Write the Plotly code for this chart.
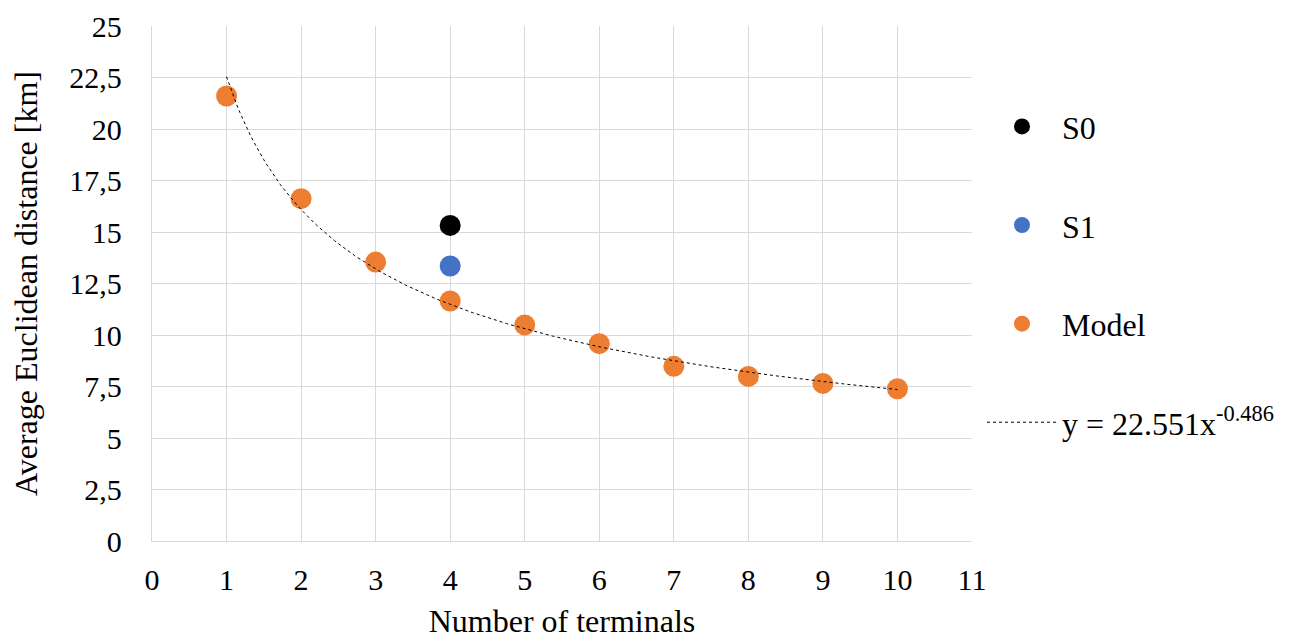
import numpy as np
import plotly.graph_objects as go

# Data
model_x = [1, 2, 3, 4, 5, 6, 7, 8, 9, 10]
model_y = [21.6, 16.62, 13.54, 11.65, 10.49, 9.58, 8.48, 7.99, 7.65, 7.39]
s0_x = [4]
s0_y = [15.32]
s1_x = [4]
s1_y = [13.35]

x_tick_vals = list(range(0, 12))
y_tick_vals = [0, 2.5, 5, 7.5, 10, 12.5, 15, 17.5, 20, 22.5, 25]
y_tick_text = ["0", "2,5", "5", "7,5", "10", "12,5", "15", "17,5", "20", "22,5", "25"]
trend_label = "y = 22.551x<sup>-0.486</sup>"

# Power trendline fitted to the Model series (as the spreadsheet does)
b, log_a = np.polyfit(np.log(model_x), np.log(model_y), 1)
a = np.exp(log_a)
trend_x = np.linspace(min(model_x), max(model_x), 200)
trend_y = a * trend_x ** b

FONT = "'Liberation Serif', 'Times New Roman', serif"
GRID = "#D9D9D9"
TICK_SIZE = 30
TEXT_SIZE = 32

fig = go.Figure()
fig.add_trace(go.Scatter(x=s0_x, y=s0_y, mode="markers", name="S0",
                         marker=dict(color="#000000", size=21), legendgroup="a"))
fig.add_trace(go.Scatter(x=s1_x, y=s1_y, mode="markers", name="S1",
                         marker=dict(color="#4472C4", size=21), legendgroup="b"))
fig.add_trace(go.Scatter(x=model_x, y=model_y, mode="markers", name="Model",
                         marker=dict(color="#ED7D31", size=21), legendgroup="c"))
fig.add_trace(go.Scatter(x=trend_x, y=trend_y, mode="lines", name=trend_label,
                         line=dict(color="#000000", width=1, dash="dot"),
                         legendgroup="d"))

fig.update_layout(
    width=1303, height=637,
    paper_bgcolor="white", plot_bgcolor="white",
    margin=dict(l=144, r=339, t=18, b=104, autoexpand=False),
    font=dict(family=FONT, size=TEXT_SIZE, color="#000000"),
    showlegend=True,
    legend=dict(x=1.0122, xanchor="left", y=0.858, yanchor="top",
                font=dict(family=FONT, size=TEXT_SIZE),
                tracegroupgap=54, itemwidth=70,
                bgcolor="rgba(0,0,0,0)"),
    xaxis=dict(range=[0, 11], tickvals=x_tick_vals, showgrid=True, gridcolor=GRID,
               gridwidth=1.3, zeroline=False, showline=True, linecolor=GRID, linewidth=1.3,
               mirror=False, ticks="", ticklabelstandoff=12, automargin=False,
               tickfont=dict(family=FONT, size=TICK_SIZE),
               title=dict(text="Number of terminals", font=dict(family=FONT, size=TEXT_SIZE),
                          standoff=14)),
    yaxis=dict(range=[0, 25], tickvals=y_tick_vals, ticktext=y_tick_text, showgrid=True,
               gridcolor=GRID, gridwidth=1.3, zeroline=False, showline=True, linecolor=GRID,
               linewidth=1.3, ticks="", ticklabelstandoff=23, automargin=False,
               tickfont=dict(family=FONT, size=TICK_SIZE),
               title=dict(text="Average Euclidean distance [km]",
                          font=dict(family=FONT, size=TEXT_SIZE), standoff=22)),
)

fig.write_html("out.html")
